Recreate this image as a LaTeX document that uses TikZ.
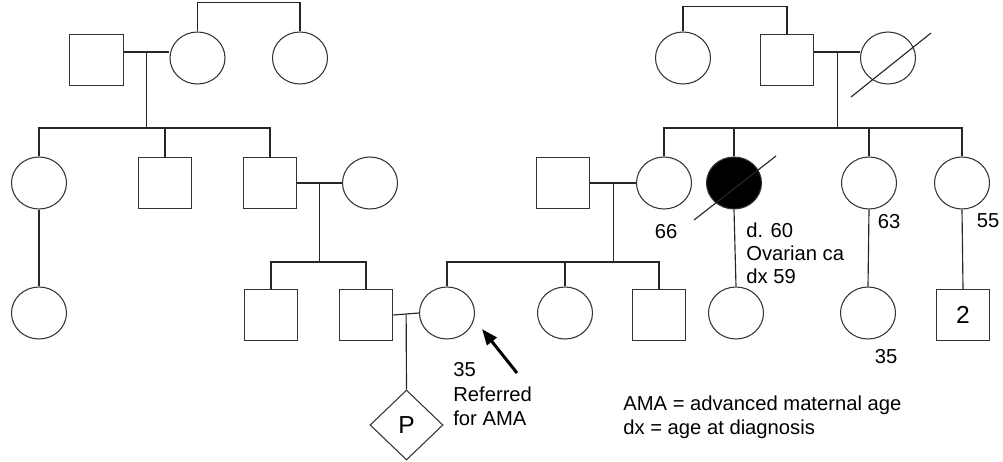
\documentclass[tikz,border=0pt]{standalone}
\usepackage{fontspec}
\setmainfont{Liberation Sans}
\usetikzlibrary{shapes.geometric}
\usetikzlibrary{arrows.meta}

\tikzset{
 male/.style={draw=black!80,line width=0.6pt,minimum width=1.07cm,minimum height=1.02cm,inner sep=0pt,font=\fontsize{14}{16}\selectfont},
 female/.style={ellipse,draw=black!80,line width=0.6pt,minimum width=1.1cm,minimum height=1.04cm,inner sep=0pt},
 preg/.style={diamond,draw=black!80,line width=0.6pt,minimum width=1.46cm,minimum height=1.4cm,inner sep=0pt,font=\fontsize{14}{16}\selectfont},
 kin/.style={draw=black!85,line width=0.65pt},
 age/.style={inner sep=0pt,font=\fontsize{11.5}{14}\selectfont},
 note/.style={inner sep=0pt,anchor=north west,align=left,font=\fontsize{11.5}{14}\selectfont}
}

\begin{document}
\begin{tikzpicture}[x=0.2mm,y=-0.2mm]
 \useasboundingbox (0,0) rectangle (1003,461);
 % partner's side
 \node[male] (ppgf) at (96.5,60) {};
 \node[female] (ppgm) at (197.5,58) {};
 \node[female] (ppgaunt) at (300,58) {};
 \node[female] (paunt) at (39,183) {};
 \node[male] (puncle) at (165,183) {};
 \node[male] (pfather) at (270,183) {};
 \node[female] (pmother) at (370,183) {};
 \node[female] (pcousin) at (39,313) {};
 \node[male] (pbrother) at (271,315) {};
 \node[male] (partner) at (366,315) {};
 % proband's side
 \node[female] (mgaunt) at (683,58) {};
 \node[male] (mgf) at (787,60) {};
 \node[female] (mgm) at (888,58) {};
 \node[male] (father) at (563,183) {};
 \node[female] (mother) at (664,183) {};
 \node[female,fill=black] (aunta) at (734,183) {};
 \node[female] (auntb) at (869,183) {};
 \node[female] (auntc) at (962,183) {};
 \node[female] (proband) at (447,313) {};
 \node[female] (sister) at (565,313) {};
 \node[male] (brother) at (659,315) {};
 \node[female] (cousina) at (736,313) {};
 \node[female] (cousinb) at (868,313) {};
 \node[male] (cousinc) at (963,315) {2};
 \node[preg] (fetus) at (406.5,425) {P};

 % sibling pairs without parents
 \draw[kin] (ppgm.north) -- ++(0,-29) -| (ppgaunt.north);
 \draw[kin] (mgaunt.north) -- ++(0,-25) -| (mgf.north);

 % couples and their children
 \draw[kin] (ppgf.east |- 0,52) -- (ppgm.west |- 0,52) coordinate[midway] (cpa);
 \coordinate (spa) at (cpa |- 0,128);
 \draw[kin] (cpa) -- (spa);
 \draw[kin] (paunt.north) |- (spa) -| (pfather.north);
 \draw[kin] (puncle.north) -- (puncle.north |- spa);

 \draw[kin] (pfather.east) -- (pmother.west) coordinate[midway] (cpb);
 \coordinate (spb) at (cpb |- 0,262);
 \draw[kin] (cpb) -- (spb);
 \draw[kin] (pbrother.north) |- (spb) -| (partner.north);
 \draw[kin] (paunt.south) -- (pcousin.north);

 \draw[kin] (partner.east) -- (proband.west) coordinate[midway] (cpc);
 \draw[kin] (cpc) -- (fetus.north);

 \draw[kin] (mgf.east |- 0,52) -- (mgm.west |- 0,52) coordinate[midway] (cma);
 \coordinate (sma) at (cma |- 0,128);
 \draw[kin] (cma) -- (sma);
 \draw[kin] (mother.north) |- (sma) -| (auntc.north);
 \draw[kin] (aunta.north) -- (aunta.north |- sma);
 \draw[kin] (auntb.north) -- (auntb.north |- sma);

 \draw[kin] (father.east) -- (mother.west) coordinate[midway] (cmb);
 \coordinate (smb) at (cmb |- 0,262);
 \draw[kin] (cmb) -- (smb);
 \draw[kin] (proband.north) |- (smb) -| (brother.north);
 \draw[kin] (sister.north) -- (sister.north |- smb);

 \draw[kin] (aunta.south) -- (cousina.north);
 \draw[kin] (auntb.south) -- (cousinb.north);
 \draw[kin] (auntc.south) -- (cousinc.north);

 % deceased
 \draw[kin] ([shift={(-37,39)}]mgm.center) -- ([shift={(43,-25)}]mgm.center);
 \draw[kin] ([shift={(-40,37)}]aunta.center) -- ([shift={(42,-27)}]aunta.center);

 % proband arrow
 \coordinate (arrtail) at (517,373);
 \coordinate (arrtip) at (482,329);
 \draw[line width=1.7pt,-{Triangle[length=3.2mm,width=2.4mm]}] (arrtail) -- (arrtip);

 % ages and notes
 \node[age] (agemother) at (666,232) {66};
 \node[age] (ageauntb) at (889,222) {63};
 \node[age] (ageauntc) at (988,221) {55};
 \node[age] (agecousinb) at (886,357) {35};
 \node[note,font=\fontsize{11.5}{13}\selectfont] (noteaunta) at (746,223) {d. 60\\Ovarian ca\\dx 59};
 \node[note] (noteproband) at (453,362) {35\\Referred\\for AMA};
 \node[note] (legend) at (623,395) {AMA = advanced maternal age\\dx = age at diagnosis};
\end{tikzpicture}
\end{document}
